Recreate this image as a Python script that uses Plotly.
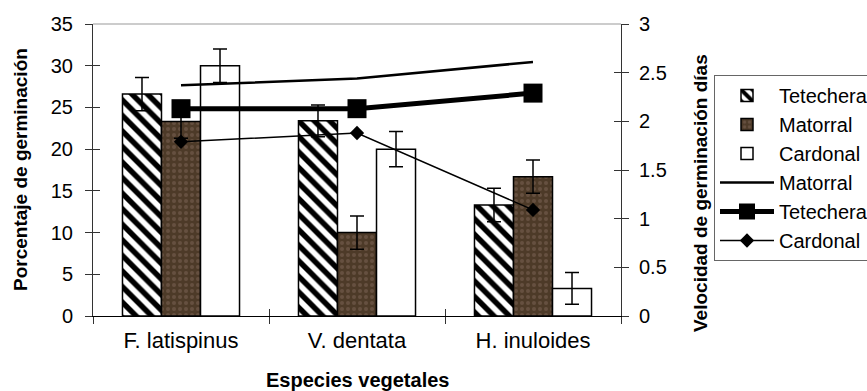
import plotly.graph_objects as go

# ---- data ----
species = ["F. latispinus", "V. dentata", "H. inuloides"]

pct_tetechera = [26.6, 23.4, 13.3]
pct_matorral = [23.3, 10.0, 16.7]
pct_cardonal = [30.0, 20.0, 3.3]

err_tetechera = [2.0, 1.9, 2.0]
err_matorral = [2.0, 2.0, 2.0]
err_cardonal = [2.0, 2.1, 1.9]

vel_matorral = [2.37, 2.44, 2.61]
vel_tetechera = [2.13, 2.13, 2.29]
vel_cardonal = [1.79, 1.88, 1.09]

FONT = "Liberation Sans, Arial, sans-serif"
AX = "#333333"

def ebar(arr):
    return dict(type="data", array=arr, visible=True, color="black", thickness=1.5, width=7)

fig = go.Figure()

fig.add_trace(go.Bar(
    x=species, y=pct_tetechera, name="Tetechera", error_y=ebar(err_tetechera),
    marker=dict(color="white", line=dict(color="black", width=1.5),
                pattern=dict(shape="\\", bgcolor="white", fgcolor="black", size=11, solidity=0.5, fillmode="replace")),
))
fig.add_trace(go.Bar(
    x=species, y=pct_matorral, name="Matorral", error_y=ebar(err_matorral),
    marker=dict(color="#4f3b29", line=dict(color="black", width=1.5),
                pattern=dict(shape=".", bgcolor="#4d3a28", fgcolor="#665040", size=6, solidity=0.35, fillmode="replace")),
))
fig.add_trace(go.Bar(
    x=species, y=pct_cardonal, name="Cardonal", error_y=ebar(err_cardonal),
    marker=dict(color="white", line=dict(color="black", width=1.5)),
))

fig.add_trace(go.Scatter(
    x=species, y=vel_matorral, name="Matorral", yaxis="y2", mode="lines",
    line=dict(color="black", width=2.5),
))
fig.add_trace(go.Scatter(
    x=species, y=vel_tetechera, name="Tetechera", yaxis="y2", mode="lines+markers",
    line=dict(color="black", width=5),
    marker=dict(symbol="square", size=19, color="black"),
))
fig.add_trace(go.Scatter(
    x=species, y=vel_cardonal, name="Cardonal", yaxis="y2", mode="lines+markers",
    line=dict(color="black", width=1.5),
    marker=dict(symbol="diamond", size=11, color="black"),
))

# helper traces for the inner halves of the crossing tick marks
fig.add_trace(go.Scatter(x=species, y=[None, None, None], xaxis="x2", yaxis="y3",
                         showlegend=False, hoverinfo="skip"))
fig.add_trace(go.Scatter(x=species, y=[None, None, None], yaxis="y4",
                         showlegend=False, hoverinfo="skip"))

W, H = 867, 391
L, R, T, B = 93, 246, 24, 75
pw, ph = W - L - R, H - T - B

def px_x(x):
    return (x - L) / pw

def px_y(y):
    return (H - B - y) / ph

common_y = dict(showgrid=False, zeroline=False, ticklen=7, tickwidth=1, tickcolor=AX)

fig.update_layout(
    width=W, height=H,
    margin=dict(l=L, r=R, t=T, b=B, autoexpand=False),
    plot_bgcolor="white", paper_bgcolor="white",
    font=dict(family=FONT, color="black"),
    barmode="group", bargap=0.335, bargroupgap=0,
    xaxis=dict(type="category", categoryarray=species, range=[-0.5, 2.5],
               tickson="boundaries", ticks="outside", ticklen=7, tickcolor=AX,
               showline=True, linecolor="black", linewidth=1, showgrid=False,
               tickfont=dict(size=22), ticklabelstandoff=5),
    xaxis2=dict(type="category", categoryarray=species, range=[-0.5, 2.5],
                overlaying="x", anchor="y", side="bottom",
                tickson="boundaries", ticks="inside", ticklen=7, tickcolor=AX,
                showticklabels=False, showline=False, showgrid=False),
    yaxis=dict(range=[0, 35], dtick=5, ticks="outside", showline=True, linecolor=AX, linewidth=1,
               tickfont=dict(size=20), ticklabelstandoff=8, **common_y),
    yaxis2=dict(range=[0, 3], dtick=0.5, overlaying="y", side="right", ticks="outside",
                showline=True, linecolor=AX, linewidth=1, anchor="x",
                tickfont=dict(size=20), ticklabelstandoff=6, **common_y),
    yaxis3=dict(range=[0, 35], dtick=5, overlaying="y", side="left", ticks="inside",
                showticklabels=False, showline=False, anchor="x2", **common_y),
    yaxis4=dict(range=[0, 3], dtick=0.5, overlaying="y", side="right", ticks="inside",
                showticklabels=False, showline=False, anchor="x", **common_y),
    legend=dict(x=px_x(714), y=px_y(75), xanchor="left", yanchor="top",
                bordercolor="#666666", borderwidth=1, bgcolor="white",
                font=dict(size=20, family=FONT), itemwidth=54, traceorder="normal",
                tracegroupgap=0),
    shapes=[dict(type="line", xref="paper", yref="paper", x0=0, x1=1, y0=1, y1=1,
                 line=dict(color="#999999", width=1))],
    annotations=[
        dict(text="<b>Porcentaje de germinación</b>", xref="paper", yref="paper",
             x=px_x(20), y=px_y(170), textangle=-90, showarrow=False,
             font=dict(size=19, family=FONT), xanchor="center", yanchor="middle"),
        dict(text="<b>Velocidad de germinación días</b>", xref="paper", yref="paper",
             x=px_x(700), y=px_y(193), textangle=-90, showarrow=False,
             font=dict(size=19, family=FONT), xanchor="center", yanchor="middle"),
        dict(text="<b>Especies vegetales</b>", xref="paper", yref="paper",
             x=0.5, y=px_y(380), showarrow=False,
             font=dict(size=20, family=FONT), xanchor="center", yanchor="middle"),
    ],
)

fig.write_html("out.html")
